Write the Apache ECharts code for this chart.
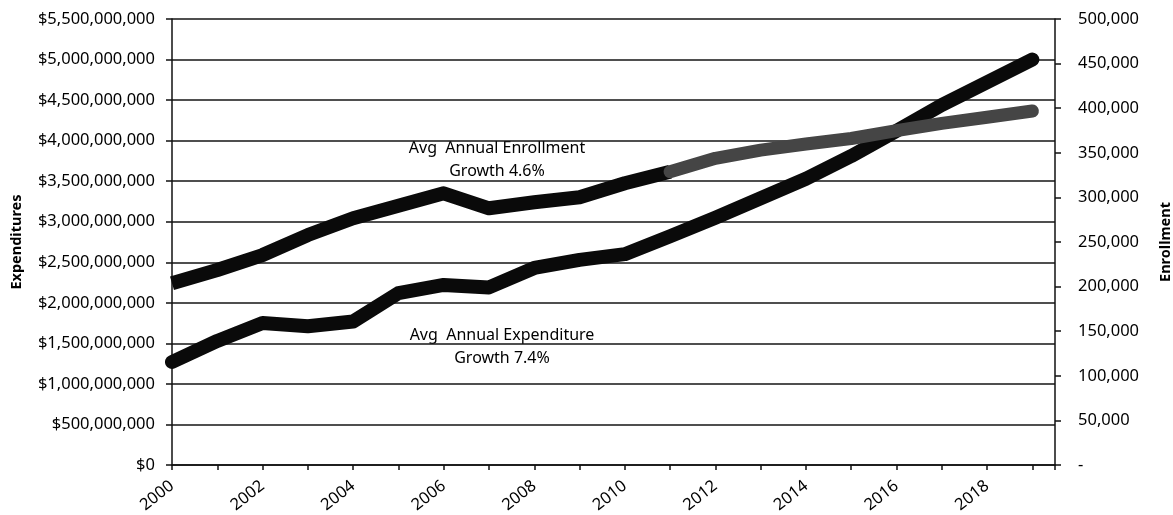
<!DOCTYPE html>
<html>
<head>
<meta charset="utf-8">
<script src="https://cdn.jsdelivr.net/npm/echarts@6/dist/echarts.min.js"></script>
<style>
  html, body { margin: 0; padding: 0; background: #fff; }
  #chart { width: 1173px; height: 515px; }
</style>
</head>
<body>
<div id="chart"></div>
<script>
// ---- Data ----
const years = [2000, 2001, 2002, 2003, 2004, 2005, 2006, 2007, 2008, 2009,
               2010, 2011, 2012, 2013, 2014, 2015, 2016, 2017, 2018, 2019];
const expenditures = [1.27e9, 1.53e9, 1.75e9, 1.71e9, 1.77e9, 2.12e9, 2.22e9, 2.19e9, 2.43e9, 2.53e9,
                      2.60e9, 2.82e9, 3.05e9, 3.29e9, 3.53e9, 3.81e9, 4.12e9, 4.44e9, 4.72e9, 5.00e9];
const enrollment = [203700, 218600, 235400, 257800, 276600, 290700, 304600, 287800, 294500, 300100,
                    315800, 328800, 343800, 353000, 359900, 366000, 374800, 383000, 389800, 396900];
const projectionStartYear = 2011;
const leftTicks = { min: 0, max: 5.5e9, interval: 5e8 };
const rightTicks = { min: 0, max: 500000, interval: 50000 };
const annotations = [
  ['Avg  Annual Enrollment', 'Growth 4.6%'],
  ['Avg  Annual Expenditure', 'Growth 7.4%']
];
const axisNames = { left: 'Expenditures', right: 'Enrollment' };

// ---- Build series data ----
const expData = years.map((y, i) => [y, expenditures[i]]);
const enrActual = years.map((y, i) => [y, enrollment[i]]).filter(d => d[0] <= projectionStartYear);
const enrProj = years.map((y, i) => [y, enrollment[i]]).filter(d => d[0] >= projectionStartYear);

const FONT = 'Noto Sans';
const fmtComma = v => v.toString().replace(/\B(?=(\d{3})+(?!\d))/g, ',');

const chart = echarts.init(document.getElementById('chart'), null, { renderer: 'canvas' });
chart.setOption({
  animation: false,
  backgroundColor: '#fff',
  textStyle: { fontFamily: FONT, color: '#000' },
  grid: { left: 172, right: 118, top: 19, bottom: 50, containLabel: false, outerBoundsMode: 'none' },
  xAxis: {
    type: 'value',
    min: 2000, max: 2019.5, interval: 1,
    axisLine: { show: true, lineStyle: { color: '#111', width: 1.5 } },
    axisTick: { show: true, length: 5, lineStyle: { color: '#111', width: 1.5 } },
    splitLine: { show: false },
    axisLabel: {
      rotate: 38, margin: 19, fontSize: 16.5, fontFamily: FONT, color: '#000',
      formatter: v => (Number.isInteger(v) && v % 2 === 0) ? String(v) : ''
    }
  },
  yAxis: [
    {
      type: 'value', position: 'left',
      min: leftTicks.min, max: leftTicks.max, interval: leftTicks.interval,
      name: axisNames.left, nameLocation: 'middle', nameRotate: 90, nameGap: 148,
      nameTextStyle: { fontFamily: FONT, fontSize: 14.5, fontWeight: 'bold', color: '#000' },
      axisLine: { show: true, lineStyle: { color: '#111', width: 1.5 } },
      axisTick: { show: true, length: 6, lineStyle: { color: '#111', width: 1.5 } },
      splitLine: { show: true, lineStyle: { color: '#151515', width: 1.6 } },
      axisLabel: {
        margin: 17, fontSize: 16.5, fontFamily: FONT, color: '#000',
        formatter: v => '$' + fmtComma(v)
      }
    },
    {
      type: 'value', position: 'right',
      min: rightTicks.min, max: rightTicks.max, interval: rightTicks.interval,
      name: axisNames.right, nameLocation: 'middle', nameRotate: 90, nameGap: 103,
      nameTextStyle: { fontFamily: FONT, fontSize: 14.5, fontWeight: 'bold', color: '#000' },
      axisLine: { show: true, lineStyle: { color: '#111', width: 1.5 } },
      axisTick: { show: true, length: 6, lineStyle: { color: '#111', width: 1.5 } },
      splitLine: { show: false },
      axisLabel: {
        margin: 23, fontSize: 16.5, fontFamily: FONT, color: '#000',
        formatter: v => v === 0 ? '-' : fmtComma(v)
      }
    }
  ],
  series: [
    {
      name: 'Expenditures', type: 'line', yAxisIndex: 0, data: expData,
      symbol: 'none', smooth: false,
      lineStyle: { color: '#0a0a0a', width: 14, cap: 'round', join: 'round' }
    },
    {
      name: 'Enrollment', type: 'line', yAxisIndex: 1, data: enrActual,
      symbol: 'none',
      lineStyle: { color: '#0a0a0a', width: 14, cap: 'butt', join: 'round' }
    },
    {
      name: 'Enrollment (projected)', type: 'line', yAxisIndex: 1, data: enrProj,
      symbol: 'none',
      lineStyle: { color: '#454545', width: 13, cap: 'round', join: 'round' }
    }
  ],
  graphic: [
    { type: 'text', x: 497, y: 148, style: { text: annotations[0][0], font: '16px "Noto Sans"', fill: '#000', align: 'center', verticalAlign: 'middle' } },
    { type: 'text', x: 497, y: 171, style: { text: annotations[0][1], font: '16px "Noto Sans"', fill: '#000', align: 'center', verticalAlign: 'middle' } },
    { type: 'text', x: 502, y: 335, style: { text: annotations[1][0], font: '16px "Noto Sans"', fill: '#000', align: 'center', verticalAlign: 'middle' } },
    { type: 'text', x: 502, y: 358, style: { text: annotations[1][1], font: '16px "Noto Sans"', fill: '#000', align: 'center', verticalAlign: 'middle' } }
  ]
});
</script>
</body>
</html>
